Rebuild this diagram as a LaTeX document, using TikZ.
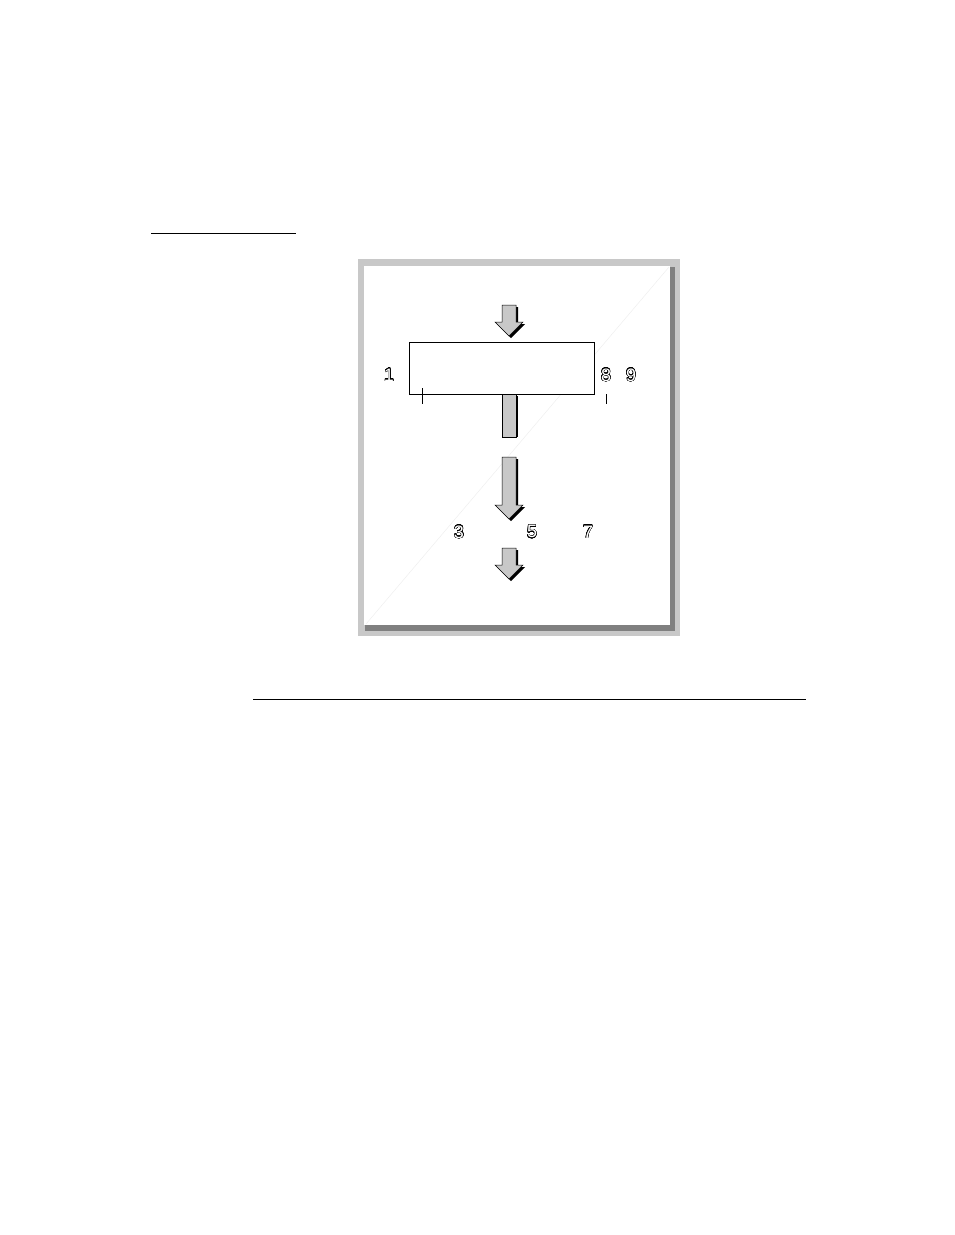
\documentclass[tikz,border=0pt]{standalone}
\usepackage{fontspec}
\setmainfont{Liberation Sans}
\usepackage{contour}
\contourlength{0.35pt}
\contournumber{24}
\definecolor{lgray}{HTML}{C8C8C8}
\definecolor{dgray}{HTML}{808080}
\definecolor{diag}{HTML}{EDEDED}
\newcommand{\fatarrow}[3]{% shaft top, head start, tip
  \fill[black] (504,#1+2) -- (518,#1+2) -- (518,#2+2) -- (525,#2+2) -- (511,#3+2) -- (497,#2+2) -- (504,#2+2) -- cycle;
  \filldraw[fill=lgray,draw=black,line width=0.5] (502,#1) -- (516,#1) -- (516,#2) -- (523,#2) -- (509,#3) -- (495,#2) -- (502,#2) -- cycle;
}
\tikzset{
  digit/.style={font=\fontsize{18}{18}\selectfont, inner sep=0pt},
  rule/.style={line width=1},
}
\newcommand{\odigit}[1]{\contour{black}{\textcolor{white}{#1}}}
\begin{document}
\begin{tikzpicture}[x=1pt,y=-1pt]
\useasboundingbox[fill=white] (0,0) rectangle (954,1235);
% rules
\draw[rule] (151,233) -- (296,233);
\draw[rule] (253,699) -- (806,699);
% frame
\fill[lgray] (358,259) rectangle (680,636);
\fill[dgray] (365,267) rectangle (675,631);
\fill[white] (364,266) rectangle (670,625);
\draw[diag, line width=0.4] (366,624) -- (669,267);
% arrows
\fatarrow{305}{322}{336}
\fill[black] (516,396) rectangle (518,437);
\filldraw[fill=lgray,draw=black,line width=0.5] (502,394) rectangle (516,437);
\fatarrow{457}{505}{519}
\fatarrow{548}{565}{579}
% box
\node[draw, line width=1.2, fill=white, minimum width=185, minimum height=52, inner sep=0pt, anchor=north west] (box) at (409,342) {};
\draw (422,388) -- (422,404);
\draw (606,394) -- (606,404);
% labels
\node[digit] (n1) at (389,375) {\odigit{1}};
\node[digit] (n8) at (606,375) {\odigit{8}};
\node[digit] (n9) at (631,375) {\odigit{9}};
\node[digit] (n3) at (459,532) {\odigit{3}};
\node[digit] (n5) at (532,532) {\odigit{5}};
\node[digit] (n7) at (588,532) {\odigit{7}};
\end{tikzpicture}
\end{document}
